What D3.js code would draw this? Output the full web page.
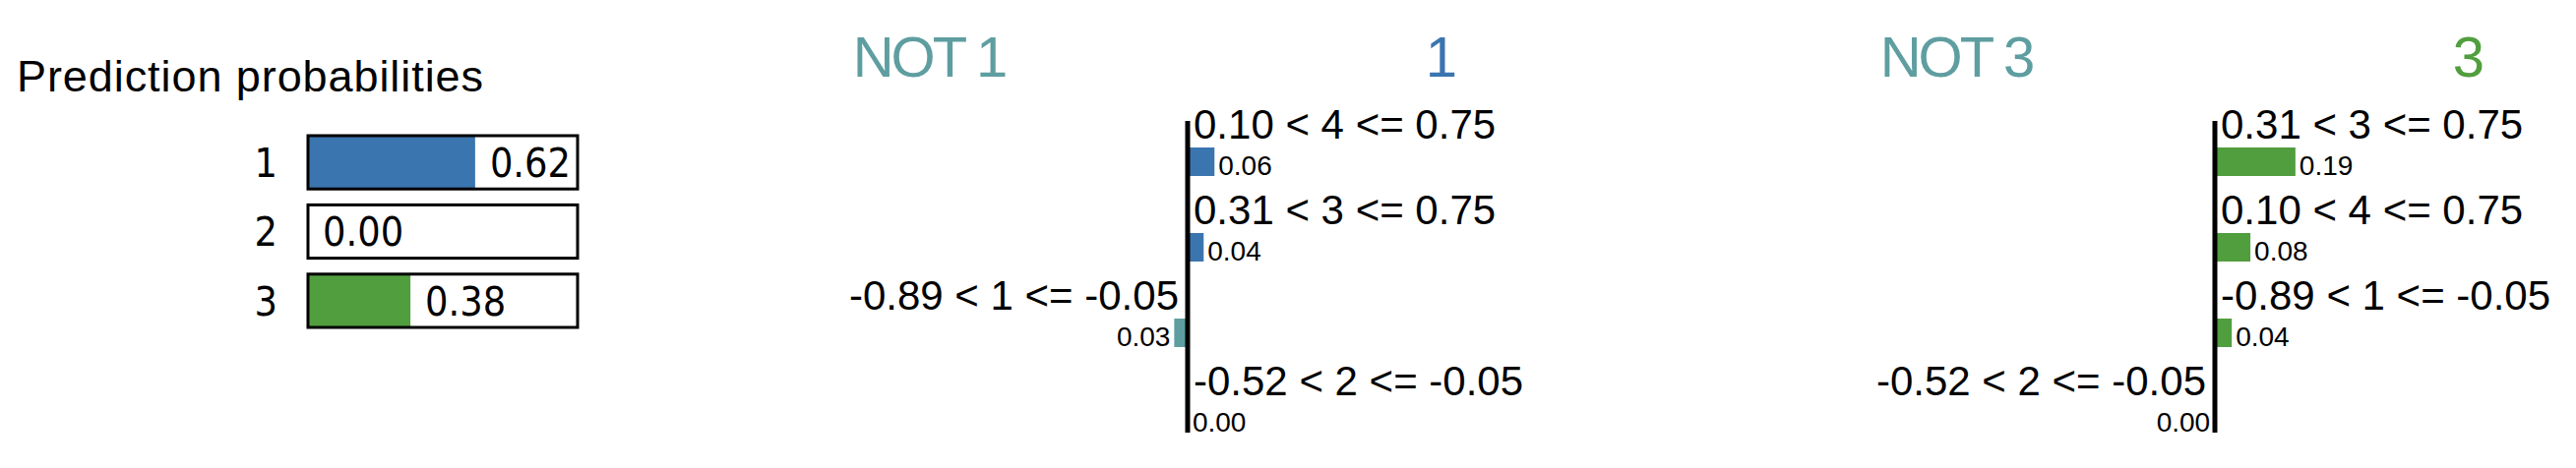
<!DOCTYPE html>
<html>
<head>
<meta charset="utf-8">
<script src="https://cdn.jsdelivr.net/npm/d3@7"></script>
<style>
  body { margin: 0; background: #fff; }
  svg { display: block; }
  text { font-family: "Liberation Sans", Arial, Helvetica, sans-serif; }
  .proba text { font-family: "DejaVu Sans Condensed", "DejaVu Sans", sans-serif; font-stretch: condensed; }
</style>
</head>
<body>
<svg width="2618" height="476"></svg>
<script>
// prediction probabilities
let classNames = ['1', '2', '3'];
let probs = [0.62, 0.00, 0.38];
let classColors = ['#3b75af', '#ffffff', '#519e3e'];
let notColor = '#5f9ea0';

// explanation for class "1"
let featuresA = ['0.10 < 4 <= 0.75', '0.31 < 3 <= 0.75', '-0.89 < 1 <= -0.05', '-0.52 < 2 <= -0.05'];
let weightsA = [0.062, 0.037, -0.031, 0.002];

// explanation for class "3"
let featuresB = ['0.31 < 3 <= 0.75', '0.10 < 4 <= 0.75', '-0.89 < 1 <= -0.05', '-0.52 < 2 <= -0.05'];
let weightsB = [0.186, 0.082, 0.039, -0.002];

var svg = d3.select("svg");

function translate(x, y) {
  return `translate(${x},${y})`;
}

// ---- left: prediction probabilities
svg.append('text')
  .attr('x', 17)
  .attr('y', 93)
  .style('font-size', '45px')
  .attr('textLength', 474)
  .text('Prediction probabilities');

let probaG = svg.append('g').attr('class', 'proba');
let barW = 274;
let py = d3.scaleBand().domain(classNames).range([138, 138 + 3 * 65]).paddingInner(0.23);
let px = d3.scaleLinear().domain([0, 1]).range([0, barW]);

let rows = probaG.selectAll('g.row')
  .data(classNames.map((c, i) => ({ name: c, p: probs[i], color: classColors[i] })))
  .enter()
  .append('g')
  .attr('class', 'row')
  .attr('transform', d => translate(313, py(d.name)));

rows.append('rect')
  .attr('width', d => px(d.p))
  .attr('height', py.bandwidth())
  .style('fill', d => d.color);

rows.append('rect')
  .attr('width', barW)
  .attr('height', py.bandwidth())
  .style('fill', 'none')
  .style('stroke', '#000')
  .style('stroke-width', 3);

rows.append('text')
  .attr('x', -31)
  .attr('y', py.bandwidth() / 2 + 15)
  .attr('text-anchor', 'end')
  .style('font-size', '41px')
  .text(d => d.name);

rows.append('text')
  .attr('x', d => px(d.p) + 15)
  .attr('y', py.bandwidth() / 2 + 15)
  .style('font-size', '41px')
  .text(d => d.p.toFixed(2));

// ---- explanation panels
function drawExplanation(axisX, label, color, features, weights) {
  let g = svg.append('g').attr('transform', translate(axisX, 0));
  let x = d3.scaleLinear().domain([-1, 1]).range([-440, 440]);
  let y = d3.scaleBand().domain(d3.range(features.length)).range([118, 118 + 87 * features.length]);

  g.append('text')
    .attr('x', -263)
    .attr('y', 78)
    .attr('text-anchor', 'middle')
    .style('font-size', '58px')
    .style('letter-spacing', '-3px')
    .style('fill', notColor)
    .text('NOT ' + label);

  g.append('text')
    .attr('x', 258)
    .attr('y', 78)
    .attr('text-anchor', 'middle')
    .style('font-size', '58px')
    .style('fill', color)
    .text(label);

  let data = features.map((f, i) => ({ name: f, w: weights[i], i: i }));
  let row = g.selectAll('g.feat')
    .data(data)
    .enter()
    .append('g')
    .attr('class', 'feat')
    .attr('transform', d => translate(0, y(d.i)));

  row.append('rect')
    .attr('x', d => Math.min(x(0), x(d.w)))
    .attr('y', 32)
    .attr('width', d => Math.abs(x(d.w) - x(0)))
    .attr('height', 29)
    .style('fill', d => d.w >= 0 ? color : notColor);

  row.append('text')
    .attr('x', d => d.w >= 0 ? 6 : -9)
    .attr('y', 23)
    .attr('text-anchor', d => d.w >= 0 ? 'start' : 'end')
    .style('font-size', '42px')
    .text(d => d.name);

  row.append('text')
    .attr('x', d => d.w >= 0 ? x(d.w) + 4 : x(d.w) - 4)
    .attr('y', 60)
    .attr('text-anchor', d => d.w >= 0 ? 'start' : 'end')
    .style('font-size', '28px')
    .text(d => Math.abs(d.w).toFixed(2));

  g.append('line')
    .attr('x1', 0).attr('x2', 0)
    .attr('y1', 123).attr('y2', 440)
    .style('stroke', '#000')
    .style('stroke-width', 5);
}

drawExplanation(1207, '1', classColors[0], featuresA, weightsA);
drawExplanation(2251, '3', classColors[2], featuresB, weightsB);
</script>
</body>
</html>
